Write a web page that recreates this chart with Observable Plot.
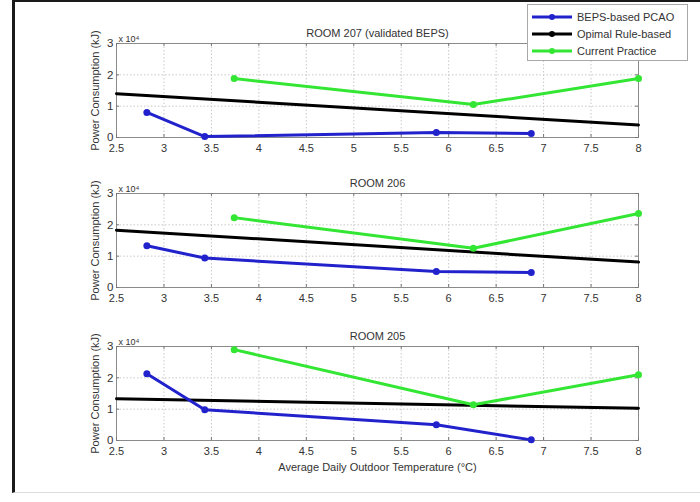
<!DOCTYPE html>
<html>
<head>
<meta charset="utf-8">
<script src="https://cdn.jsdelivr.net/npm/d3@7"></script>
<script src="https://cdn.jsdelivr.net/npm/@observablehq/plot@0.6"></script>
<style>
  html, body { margin: 0; padding: 0; background: #fff; }
  #fig { position: relative; width: 700px; height: 502px; overflow: hidden; background: #fff;
         font-family: "Liberation Sans", Arial, sans-serif; color: #222; }
  #frame { position: absolute; left: 12px; top: 0; width: 700px; height: 493px;
           border-left: 3px solid #1a1a1a; border-top: 2px solid #1a1a1a; border-bottom: 1px solid #ddd; box-sizing: border-box; }
  .panel { position: absolute; left: 0; }
  #legend { position: absolute; left: 527px; top: 4px; width: 161px; height: 57px; box-sizing: border-box;
            border: 1px solid #a8a8a8; background: #fff; padding: 3px 0 0 3px; }
  .row { display: flex; align-items: center; height: 17px; font-size: 11px; color: #333; }
  .row svg { margin-right: 4px; }
</style>
</head>
<body>
<div id="fig">
  <div id="frame"></div>
</div>
<script>
// Average daily outdoor temperature (°C) of each control strategy's test days
const pcaoTemps = [2.82, 3.43, 5.87, 6.87];
const ruleTemps = [2.5, 8.0];
const currentTemps = [3.74, 6.26, 8.0];

// Power consumption, in units of 10^4 kJ
const room207Pcao = [0.8, 0.03, 0.16, 0.13];
const room207Rule = [1.4, 0.4];
const room207Current = [1.88, 1.05, 1.88];

const room206Pcao = [1.33, 0.94, 0.51, 0.48];
const room206Rule = [1.83, 0.81];
const room206Current = [2.23, 1.25, 2.36];

const room205Pcao = [2.13, 0.98, 0.5, 0.02];
const room205Rule = [1.33, 1.03];
const room205Current = [2.9, 1.14, 2.1];

const xTicks = [2.5, 3, 3.5, 4, 4.5, 5, 5.5, 6, 6.5, 7, 7.5, 8];
const xTickLabels = ["2.5", "3", "3.5", "4", "4.5", "5", "5.5", "6", "6.5", "7", "7.5", "8"];
const yTicks = [0, 1, 2, 3];
const yTickLabels = ["0", "1", "2", "3"];

const seriesNames = ["BEPS-based PCAO", "Opimal Rule-based", "Current Practice"];
const seriesColors = ["#2222cc", "#000000", "#33e633"];

const rooms = [
  {title: "ROOM 207 (validated BEPS)", pcao: room207Pcao, rule: room207Rule, current: room207Current, top: 13, xlabel: false},
  {title: "ROOM 206", pcao: room206Pcao, rule: room206Rule, current: room206Current, top: 163, xlabel: false},
  {title: "ROOM 205", pcao: room205Pcao, rule: room205Rule, current: room205Current, top: 316, xlabel: true}
];

const W = 700, ML = 116, MR = 62, MT = 30, MB = 26;
const innerW = W - ML - MR;

function pairs(xs, ys) { return xs.map((x, i) => ({x, y: ys[i]})); }

const fig = document.getElementById("fig");

rooms.forEach(room => {
  const mb = room.xlabel ? 40 : MB;
  const H = MT + 94 + mb;
  const innerH = H - MT - mb;
  const pcao = pairs(pcaoTemps, room.pcao);
  const rule = pairs(ruleTemps, room.rule);
  const current = pairs(currentTemps, room.current);

  const marks = [
    Plot.gridX(xTicks, {stroke: "#c8c8c8", strokeOpacity: 1, strokeDasharray: "1.5,2"}),
    Plot.gridY([1, 2], {stroke: "#c8c8c8", strokeOpacity: 1, strokeDasharray: "1.5,2"}),
    Plot.frame({stroke: "#8a8a8a"}),
    // inward tick marks on all four sides
    Plot.tickX(xTicks, {x: d => d, stroke: "#777", insetTop: innerH - 3}),
    Plot.tickX(xTicks, {x: d => d, stroke: "#777", insetBottom: innerH - 3}),
    Plot.tickY(yTicks, {y: d => d, stroke: "#777", insetRight: innerW - 3}),
    Plot.tickY(yTicks, {y: d => d, stroke: "#777", insetLeft: innerW - 3}),
    Plot.axisX(xTicks, {tickSize: 0, tickPadding: 7, label: null, fontSize: 11, fill: "#333",
                         tickFormat: d => xTickLabels[xTicks.indexOf(d)]}),
    Plot.axisY(yTicks, {tickSize: 0, tickPadding: 3, label: null, fontSize: 11.5, fill: "#333",
                         tickFormat: d => yTickLabels[yTicks.indexOf(d)]}),
    Plot.line(rule, {x: "x", y: "y", stroke: seriesColors[1], strokeWidth: 3}),
    Plot.line(current, {x: "x", y: "y", stroke: seriesColors[2], strokeWidth: 3}),
    Plot.dot(current, {x: "x", y: "y", fill: seriesColors[2], r: 3.5}),
    Plot.line(pcao, {x: "x", y: "y", stroke: seriesColors[0], strokeWidth: 3}),
    Plot.dot(pcao, {x: "x", y: "y", fill: seriesColors[0], r: 3.5}),
    Plot.text([room.title], {frameAnchor: "top", dy: -14, fontSize: 11, fill: "#333"}),
    Plot.text(["x 10\u2074"], {frameAnchor: "top-left", textAnchor: "start", dx: 2, dy: -8, fontSize: 9, fill: "#333"}),
    Plot.text(["Power Consumption (kJ)"], {frameAnchor: "left", textAnchor: "middle", rotate: -90, dx: -21, fontSize: 11, fill: "#333"})
  ];
  if (room.xlabel) {
    marks.push(Plot.text(["Average Daily Outdoor Temperature (\u00B0C)"],
      {frameAnchor: "bottom", dy: 30, fontSize: 11, fill: "#333"}));
  }

  const chart = Plot.plot({
    width: W, height: H,
    marginLeft: ML, marginRight: MR, marginTop: MT, marginBottom: mb,
    x: {domain: [2.5, 8]},
    y: {domain: [0, 3]},
    style: {fontFamily: "'Liberation Sans', Arial, sans-serif", background: "transparent", overflow: "visible"},
    marks
  });
  chart.classList.add("panel");
  chart.style.top = room.top + "px";
  fig.appendChild(chart);
});

// legend box in the upper right corner
const legend = document.createElement("div");
legend.id = "legend";
seriesNames.forEach((name, i) => {
  const row = document.createElement("div");
  row.className = "row";
  row.innerHTML = `<svg width="42" height="10"><line x1="1" y1="5" x2="41" y2="5" stroke="${seriesColors[i]}" stroke-width="3"/>` +
    `<circle cx="21" cy="5" r="3" fill="${seriesColors[i]}"/></svg><span>${name}</span>`;
  legend.appendChild(row);
});
fig.appendChild(legend);
</script>
</body>
</html>
